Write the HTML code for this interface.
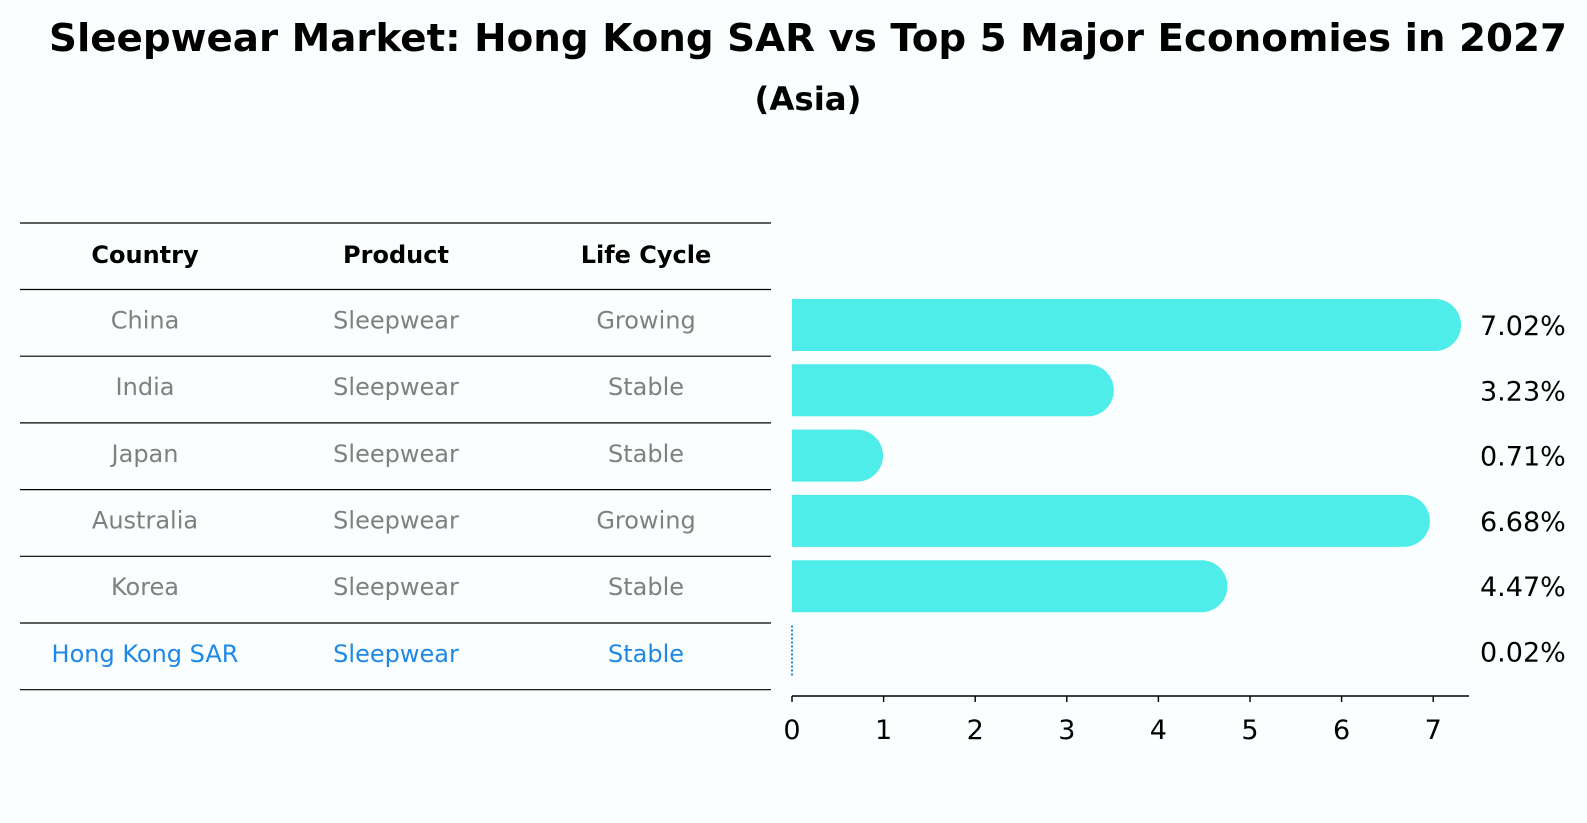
<!DOCTYPE html>
<html><head><meta charset="utf-8"><style>
html,body{margin:0;padding:0;background:#fbfefe;}
svg{display:block;font-family:"DejaVu Sans","Liberation Sans",sans-serif;}
</style></head><body>
<svg id="chart" width="1587" height="823" viewBox="0 0 1587 823" xmlns="http://www.w3.org/2000/svg">
<rect width="1587" height="823" fill="#fbfefe"/>
<text x="808" y="51" text-anchor="middle" font-size="38" font-weight="bold" textLength="1518" lengthAdjust="spacingAndGlyphs">Sleepwear Market: Hong Kong SAR vs Top 5 Major Economies in 2027</text>
<text x="808" y="110" text-anchor="middle" font-size="32" font-weight="bold" textLength="107" lengthAdjust="spacingAndGlyphs">(Asia)</text>
<g id="table"></g>
<g id="bars"></g>
<g id="axis"></g>
</svg>
<script>
const countries = ["China","India","Japan","Australia","Korea","Hong Kong SAR"];
const products = ["Sleepwear","Sleepwear","Sleepwear","Sleepwear","Sleepwear","Sleepwear"];
const lifeCycles = ["Growing","Stable","Stable","Growing","Stable","Stable"];
const growthValues = [7.02,3.23,0.71,6.68,4.47,0.02];
const valueLabels = ["7.02%","3.23%","0.71%","6.68%","4.47%","0.02%"];
const xTicks = [0,1,2,3,4,5,6,7];
const headers = ["Country","Product","Life Cycle"];

const NS="http://www.w3.org/2000/svg";
function mk(tag,attrs,parent){const e=document.createElementNS(NS,tag);for(const k in attrs)e.setAttribute(k,attrs[k]);parent.appendChild(e);return e;}
const x0=792, unit=91.6;
function xScale(v){return x0+v*unit;}
const rowTop=290, rowH=66.7;
function rowCenter(i){return rowTop+rowH*(i+0.5)-3;}
const table=document.getElementById('table');
const colX=[145,396,646];
const lineYs=[223];
for(let i=0;i<=countries.length;i++)lineYs.push(rowTop+i*rowH-0.5);
lineYs.forEach((y,i)=>{
  const l=mk('line',{x1:20,x2:771,y1:y,y2:y,stroke:'#000','stroke-width':1.2},table);
  
  
});
headers.forEach((h,j)=>{
  const t=mk('text',{x:colX[j],y:263,'text-anchor':'middle','font-size':24,'font-weight':'bold'},table);
  t.textContent=h;
  
  
});
countries.forEach((c,i)=>{
  const hk=i===countries.length-1;
  const col=hk?'#1e88e5':'#808080';
  [c,products[i],lifeCycles[i]].forEach((v,j)=>{
    const t=mk('text',{x:colX[j],y:rowCenter(i)+8,'text-anchor':'middle','font-size':24,fill:col},table);
    t.textContent=v;
    
    
  });
});
const bars=document.getElementById('bars');
const barCenter0=325, barStep=65.3, half=26;
growthValues.forEach((v,i)=>{
  const cy=barCenter0+i*barStep;
  const xe=xScale(v);
  if(v<0.1){
    const l=mk('line',{x1:x0,x2:x0,y1:cy-half,y2:cy+half,stroke:'#1e88e5','stroke-width':2,'stroke-dasharray':'2,2'},bars);
    
    
  } else {
    const p=mk('path',{d:`M${x0},${cy-half} H${xe} A${half},${half} 0 0 1 ${xe},${cy+half} H${x0} Z`,fill:'#4eede9'},bars);
    
    
  }
  const t=mk('text',{x:1480,y:cy+10,'font-size':27},bars);
  t.textContent=valueLabels[i];
  
  
});
const axis=document.getElementById('axis');
const ay=696;
const al=mk('line',{x1:x0,x2:1469,y1:ay,y2:ay,stroke:'#000','stroke-width':1.6},axis);


xTicks.forEach(v=>{
  const x=xScale(v);
  const tk=mk('line',{x1:x,x2:x,y1:ay,y2:ay+6,stroke:'#000','stroke-width':1.4},axis);
  
  
  const t=mk('text',{x:x,y:739,'text-anchor':'middle','font-size':27},axis);
  t.textContent=v;
  
  
});
</script>
</body></html>
